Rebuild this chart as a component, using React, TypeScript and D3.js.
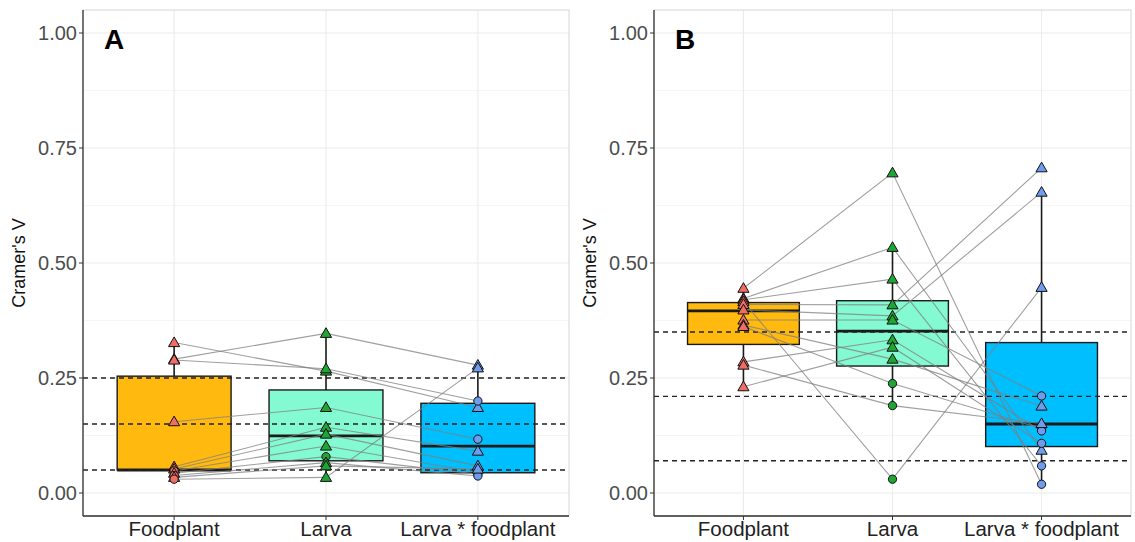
import * as d3 from 'd3'

// categories on the x axis
const categories = ['Foodplant', 'Larva', 'Larva * foodplant']
const yTicks = [0, 0.25, 0.5, 0.75, 1]
const yMinor = [0.125, 0.375, 0.625, 0.875]

// panel A: one value per item and category, plus the marker shape (T = triangle, C = circle)
const aFoodplant = [0.327, 0.291, 0.289, 0.155, 0.057, 0.052, 0.048, 0.043, 0.038, 0.034, 0.030]
const aFoodplantShape = ['T', 'T', 'T', 'T', 'T', 'T', 'C', 'T', 'C', 'T', 'C']
const aLarva = [0.265, 0.347, 0.270, 0.186, 0.143, 0.128, 0.102, 0.079, 0.066, 0.059, 0.034]
const aLarvaShape = ['T', 'T', 'T', 'T', 'T', 'T', 'T', 'C', 'T', 'T', 'T']
const aLxF = [0.186, 0.278, 0.200, 0.117, 0.091, 0.059, 0.045, 0.041, 0.037, 0.052, 0.272]
const aLxFShape = ['T', 'T', 'C', 'C', 'T', 'T', 'C', 'C', 'C', 'T', 'T']
// box summaries: lower whisker, q1, median, q3, upper whisker
const aBoxes = [
  [0.030, 0.050, 0.050, 0.254, 0.327],
  [0.034, 0.070, 0.124, 0.224, 0.347],
  [0.037, 0.044, 0.102, 0.195, 0.278],
]
const aThresholds = [0.05, 0.15, 0.25]

// panel B
const bFoodplant = [0.445, 0.423, 0.420, 0.416, 0.410, 0.398, 0.376, 0.365, 0.362, 0.285, 0.278, 0.231]
const bFoodplantShape = ['T', 'T', 'T', 'T', 'T', 'T', 'T', 'T', 'T', 'T', 'T', 'T']
const bLarva = [0.696, 0.534, 0.465, 0.030, 0.409, 0.385, 0.376, 0.291, 0.238, 0.333, 0.190, 0.317]
const bLarvaShape = ['T', 'T', 'T', 'C', 'T', 'T', 'T', 'T', 'C', 'T', 'C', 'T']
const bLxF = [0.019, 0.093, 0.059, 0.447, 0.707, 0.654, 0.211, 0.189, 0.140, 0.135, 0.151, 0.108]
const bLxFShape = ['C', 'T', 'C', 'T', 'T', 'T', 'C', 'T', 'C', 'C', 'T', 'C']
const bBoxes = [
  [0.231, 0.323, 0.396, 0.414, 0.445],
  [0.190, 0.276, 0.352, 0.418, 0.534],
  [0.019, 0.101, 0.150, 0.327, 0.654],
]
const bThresholds = [0.07, 0.21, 0.35]

const boxFill = ['#FFB90F', '#84FAD3', '#00BFFF']
const pointFill = ['#EE6E66', '#1FA533', '#6F9DEE']

const W = 1135
const H = 542
const top = 10
const bottom = 516
const font = 'Liberation Sans, Arial, sans-serif'

type PanelProps = {
  x0: number
  x1: number
  tag: string
  values: number[][]
  shapes: string[][]
  boxes: number[][]
  thresholds: number[]
}

const triangle = d3.symbol(d3.symbolTriangle, 54)()
const circle = d3.symbol(d3.symbolCircle, 54)()

const Panel = ({x0, x1, tag, values, shapes, boxes, thresholds}: PanelProps) => {
  const y = d3.scaleLinear().domain([-0.05, 1.05]).range([bottom, top])
  const x = d3.scalePoint<string>().domain(categories).range([x0, x1]).padding(0.6)
  const bw = x.step() * 0.75
  const nItems = values[0].length
  const line = d3.line<[number, number]>()

  const items = d3.range(nItems).map(i =>
    categories.map((c, ci) => [x(c) as number, y(values[ci][i])] as [number, number])
  )

  return (
    <g>
      {/* gridlines */}
      {yMinor.map(t => (
        <line key={'m' + t} x1={x0} x2={x1} y1={y(t)} y2={y(t)} stroke="#F3F3F3" strokeWidth={0.8} />
      ))}
      {yTicks.map(t => (
        <line key={'g' + t} x1={x0} x2={x1} y1={y(t)} y2={y(t)} stroke="#EBEBEB" strokeWidth={1.1} />
      ))}
      {categories.map(c => (
        <line key={'v' + c} x1={x(c)} x2={x(c)} y1={top} y2={bottom} stroke="#EBEBEB" strokeWidth={1.1} />
      ))}
      {/* panel border */}
      <rect x={x0} y={top} width={x1 - x0} height={bottom - top} fill="none" stroke="#D6D6D6" strokeWidth={1} />

      {/* boxes */}
      {boxes.map((b, ci) => {
        const cx = x(categories[ci]) as number
        return (
          <g key={'b' + ci} stroke="#1A1A1A">
            <line x1={cx} x2={cx} y1={y(b[3])} y2={y(b[4])} strokeWidth={1.6} />
            <line x1={cx} x2={cx} y1={y(b[1])} y2={y(b[0])} strokeWidth={1.6} />
            <rect x={cx - bw / 2} y={y(b[3])} width={bw} height={y(b[1]) - y(b[3])} fill={boxFill[ci]} strokeWidth={1.4} />
            <line x1={cx - bw / 2} x2={cx + bw / 2} y1={y(b[2])} y2={y(b[2])} strokeWidth={2.8} />
          </g>
        )
      })}

      {/* thresholds */}
      {thresholds.map(t => (
        <line key={'t' + t} x1={x0} x2={x1} y1={y(t)} y2={y(t)} stroke="#222" strokeWidth={1.4} strokeDasharray="5,4" />
      ))}

      {/* item lines */}
      {items.map((pts, i) => (
        <path key={'l' + i} d={line(pts) || ''} fill="none" stroke="#7F7F7F" strokeOpacity={0.75} strokeWidth={1.1} />
      ))}

      {/* points */}
      {categories.map((c, ci) =>
        values[ci].map((v, i) => (
          <path
            key={'p' + ci + '-' + i}
            d={(shapes[ci][i] === 'T' ? triangle : circle) || ''}
            transform={`translate(${x(c)},${y(v) + (shapes[ci][i] === 'T' ? 0.8 : 0)})`}
            fill={pointFill[ci]}
            stroke="#111"
            strokeWidth={1}
          />
        ))
      )}

      {/* axes */}
      <line x1={x0} x2={x0} y1={top} y2={bottom} stroke="#333" strokeWidth={1.3} />
      <line x1={x0} x2={x1} y1={bottom} y2={bottom} stroke="#333" strokeWidth={1.3} />
      {yTicks.map(t => (
        <g key={'yt' + t}>
          <line x1={x0 - 4} x2={x0} y1={y(t)} y2={y(t)} stroke="#333" strokeWidth={1} />
          <text x={x0 - 6} y={y(t)} dy="0.35em" textAnchor="end" fontSize={20} fill="#4D4D4D" fontFamily={font}>
            {d3.format('.2f')(t)}
          </text>
        </g>
      ))}
      {categories.map(c => (
        <g key={'xt' + c}>
          <line x1={x(c)} x2={x(c)} y1={bottom} y2={bottom + 4} stroke="#333" strokeWidth={1} />
          <text x={x(c)} y={bottom + 20} textAnchor="middle" fontSize={20.5} fill="#222" fontFamily={font}>
            {c}
          </text>
        </g>
      ))}
      <text
        transform={`translate(${x0 - 64},${(top + bottom) / 2}) rotate(-90)`}
        textAnchor="middle"
        dy="0.35em"
        fontSize={18}
        fill="#111"
        fontFamily={font}
      >
        Cramer's V
      </text>
      <text x={x0 + 21} y={49} fontSize={28} fontWeight="bold" fill="#000" fontFamily={font}>
        {tag}
      </text>
    </g>
  )
}

export default function App() {
  return (
    <svg width={W} height={H} style={{position: 'absolute', left: 0, top: 0, background: '#fff'}}>
      <rect width={W} height={H} fill="#fff" />
      <Panel
        x0={83}
        x1={569}
        tag="A"
        values={[aFoodplant, aLarva, aLxF]}
        shapes={[aFoodplantShape, aLarvaShape, aLxFShape]}
        boxes={aBoxes}
        thresholds={aThresholds}
      />
      <Panel
        x0={654}
        x1={1131}
        tag="B"
        values={[bFoodplant, bLarva, bLxF]}
        shapes={[bFoodplantShape, bLarvaShape, bLxFShape]}
        boxes={bBoxes}
        thresholds={bThresholds}
      />
    </svg>
  )
}
